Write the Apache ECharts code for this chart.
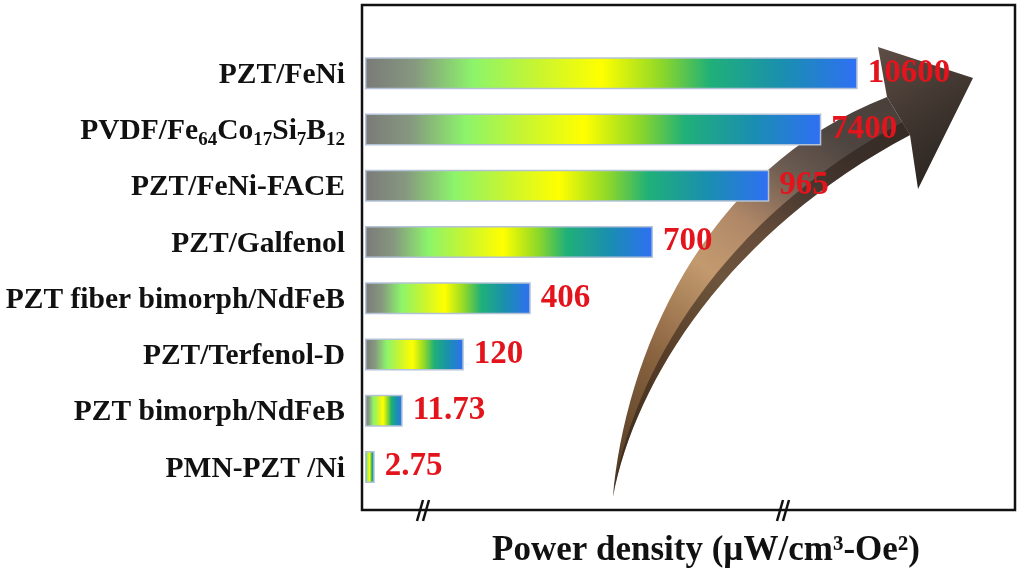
<!DOCTYPE html>
<html>
<head>
<meta charset="utf-8">
<script src="https://cdn.jsdelivr.net/npm/echarts@6/dist/echarts.min.js"></script>
<style>html,body{margin:0;padding:0;background:#fff;}#c{width:1024px;height:572px;}</style>
</head>
<body>
<div id="c"></div>
<script>
// Categories (top to bottom)
const categories = ['PZT/FeNi', 'PVDF/Fe64Co17Si7B12', 'PZT/FeNi-FACE', 'PZT/Galfenol',
  'PZT fiber bimorph/NdFeB', 'PZT/Terfenol-D', 'PZT bimorph/NdFeB', 'PMN-PZT /Ni'];
// Power density values shown as labels (µW/cm3-Oe2)
const powerDensity = ['10600', '7400', '965', '700', '406', '120', '11.73', '2.75'];
// Bar lengths as drawn on the broken (schematic) axis, in axis units 0-100
const barLength = [75.8, 70.2, 62.2, 44.3, 25.5, 15.2, 5.8, 1.5];
const axisTitle = 'Power density (\u00b5W/cm\u00b3-Oe\u00b2)';

const serif = '"Times New Roman", "Liberation Serif", "DejaVu Serif", serif';
const chart = echarts.init(document.getElementById('c'), null, {renderer: 'canvas'});

const barGradient = {
  type: 'linear', x: 0, y: 0, x2: 1, y2: 0,
  colorStops: [
    {offset: 0, color: '#7a7a78'},
    {offset: 0.1, color: '#869880'},
    {offset: 0.22, color: '#8cf46a'},
    {offset: 0.35, color: '#c8f530'},
    {offset: 0.48, color: '#ffff00'},
    {offset: 0.6, color: '#8fd828'},
    {offset: 0.7, color: '#20b078'},
    {offset: 0.85, color: '#1a8eb0'},
    {offset: 1, color: '#2f6ff5'}
  ]
};

function richName(v) {
  return v.replace(/(\d+)|(\D+)/g, function (m, d, t) {
    return d ? '{s|' + d + '}' : '{a|' + t + '}';
  });
}

// decorative trend arrow (schematic, drawn in pixel space)
function renderArrow() {
  return {
    type: 'group',
    children: [
      {type: 'path',
        shape: {pathData: 'M613,497 C625,360 700,170 887,97 L910,135 C730,230 635,380 613,497 Z'},
        style: {fill: {type: 'linear', x: 0, y: 1, x2: 1, y2: 0, colorStops: [
          {offset: 0, color: '#4a3520'},
          {offset: 0.28, color: '#8a6440'},
          {offset: 0.48, color: '#c39a6e'},
          {offset: 0.6, color: '#b08868'},
          {offset: 0.74, color: '#6a5a50'},
          {offset: 0.85, color: '#4e4540'},
          {offset: 1, color: '#4a3e38'}
        ]}}},
      // darker shaded underside of the body
      {type: 'path',
        shape: {pathData: 'M613,497 C632,372 722,218 903,122 L910,135 C730,230 635,380 613,497 Z'},
        style: {fill: 'rgba(40,28,20,0.55)'}},
      {type: 'path',
        shape: {pathData: 'M887,97 L878,47 L973,78 L918,189 L910,135 Z'},
        style: {fill: {type: 'linear', x: 0, y: 0, x2: 1, y2: 1, colorStops: [
          {offset: 0, color: '#5e4e46'},
          {offset: 0.5, color: '#3e342e'},
          {offset: 1, color: '#221e1c'}
        ]}}}
    ]
  };
}

const option = {
  animation: false,
  backgroundColor: '#fff',
  grid: {left: 365, right: 9, top: 45, bottom: 77, containLabel: false, outerBoundsMode: 'none'},
  xAxis: {
    type: 'value', min: 0, max: 100,
    axisLine: {show: false}, axisTick: {show: false},
    axisLabel: {show: false}, splitLine: {show: false},
    name: axisTitle, nameLocation: 'middle', nameGap: 38,
    nameTextStyle: {fontFamily: serif, fontWeight: 'bold', fontSize: 35, color: '#111', padding: [0, 0, 0, 32]}
  },
  yAxis: {
    type: 'category', data: categories, inverse: true,
    axisLine: {show: false}, axisTick: {show: false}, splitLine: {show: false},
    axisLabel: {
      margin: 20,
      formatter: richName,
      rich: {
        a: {fontFamily: serif, fontWeight: 'bold', fontSize: 29.5, color: '#111', padding: [4, 0, 0, 0]},
        s: {fontFamily: serif, fontWeight: 'bold', fontSize: 19, color: '#111', padding: [22, 0, 0, 0]}
      }
    }
  },
  series: [{
    type: 'custom',
    z: 1,
    silent: true,
    data: [0],
    renderItem: renderArrow
  }, {
    type: 'bar',
    z: 2,
    data: barLength,
    barWidth: 32,
    itemStyle: {color: barGradient, borderColor: '#b4c2d8', borderWidth: 1.5},
    label: {
      show: true, position: 'right', distance: 10,
      formatter: function (p) { return powerDensity[p.dataIndex]; },
      fontFamily: serif, fontWeight: 'bold', fontSize: 33, color: '#e3141c', padding: [4, 0, 0, 0]
    }
  }],
  graphic: [
    {type: 'rect', z: 0, shape: {x: 362, y: 5, width: 653, height: 505},
      style: {fill: 'none', stroke: '#111', lineWidth: 2.5}},
    {type: 'line', z: 5, shape: {x1: 417, y1: 521, x2: 423, y2: 500}, style: {stroke: '#111', lineWidth: 2.5}},
    {type: 'line', z: 5, shape: {x1: 423, y1: 521, x2: 429, y2: 500}, style: {stroke: '#111', lineWidth: 2.5}},
    {type: 'line', z: 5, shape: {x1: 777, y1: 521, x2: 783, y2: 500}, style: {stroke: '#111', lineWidth: 2.5}},
    {type: 'line', z: 5, shape: {x1: 783, y1: 521, x2: 789, y2: 500}, style: {stroke: '#111', lineWidth: 2.5}}
  ]
};
chart.setOption(option);
</script>
</body>
</html>
